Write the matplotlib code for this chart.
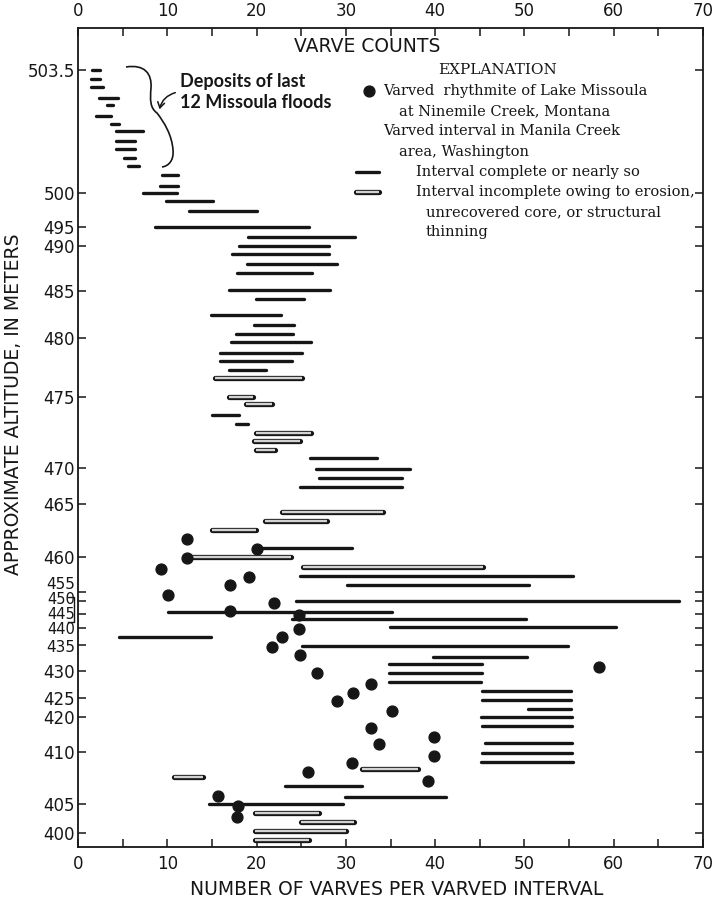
import numpy as np
import matplotlib
matplotlib.use("Agg")
import matplotlib.pyplot as plt
from matplotlib.path import Path
from matplotlib.patches import PathPatch, FancyArrowPatch
from matplotlib.transforms import ScaledTranslation

# altitude axis of the original is schematic: each labelled altitude and where it sits (0 = bottom of plot)
tick_alt = [397.6, 400, 405, 410, 420, 425, 430, 435, 440, 445, 450, 455, 460,
            465, 470, 475, 480, 485, 490, 495, 500, 503.5, 504.7]
tick_pos = [0, 14, 43, 95, 130, 149, 176, 202, 219, 233, 246, 255, 290,
            343, 379, 450, 509, 556, 601, 620, 654, 777, 819]
tick_labels = ['400', '405', '410', '420', '425', '430', '435', '440', '445', '450',
               '455', '460', '465', '470', '475', '480', '485', '490', '495', '500', '503.5']

# varved intervals, complete or nearly so (altitude, first and last varve count)
complete_alt = [503.50, 503.24, 503.01, 502.71, 502.50, 502.20, 501.96, 501.76, 501.49,
                501.26, 500.99, 500.76, 500.51, 500.21, 500.00, 498.82, 497.40, 494.92,
                492.37, 490.00, 489.08, 488.00, 487.04, 485.10, 484.15, 482.42, 481.36,
                480.47, 479.64, 478.75, 478.05, 477.26, 473.71, 473.10, 470.68, 469.82,
                468.57, 467.40, 460.88, 457.33, 456.04, 450.00, 445.88, 443.11, 440.25,
                437.44, 434.81, 432.75, 431.35, 429.57, 427.96, 426.30, 424.47, 422.18,
                420.08, 417.43, 412.48, 409.87, 409.01, 406.73, 405.70, 404.95]
complete_start = [1.6, 1.4, 1.4, 2.3, 3.3, 2.0, 3.7, 4.3, 4.3,
                  4.2, 5.1, 5.6, 9.4, 9.2, 7.3, 9.9, 12.4, 8.6,
                  19.0, 18.0, 17.2, 18.9, 17.8, 16.9, 19.9, 14.9, 19.7,
                  17.7, 17.1, 15.9, 15.9, 16.9, 15.0, 17.7, 26.0, 26.7,
                  27.0, 24.9, 20.2, 24.9, 30.1, 24.4, 10.1, 24.0, 34.9,
                  4.6, 25.1, 39.8, 34.8, 34.8, 34.8, 45.3, 45.2, 50.4,
                  45.1, 45.3, 45.6, 45.2, 45.1, 23.2, 29.9, 14.7]
complete_end = [2.5, 2.5, 2.8, 4.5, 3.9, 3.7, 4.6, 7.3, 6.4,
                6.4, 6.4, 6.8, 11.2, 11.2, 11.1, 15.1, 20.0, 25.9,
                31.0, 28.1, 28.1, 29.0, 26.2, 28.2, 25.3, 22.7, 24.2,
                24.1, 26.1, 25.1, 24.0, 21.1, 18.0, 19.0, 33.5, 37.2,
                36.3, 36.3, 30.7, 55.4, 50.5, 67.3, 35.2, 50.2, 60.2,
                14.9, 54.9, 50.3, 45.2, 45.2, 45.1, 55.2, 55.2, 55.2,
                55.3, 55.3, 55.3, 55.3, 55.4, 31.8, 41.2, 29.7]

# varved intervals, incomplete (erosion, unrecovered core, thinning)
incomplete_alt = [476.61, 475.03, 474.49, 472.49, 471.88, 471.29, 464.22, 463.40, 462.52,
                  459.96, 458.53, 408.34, 407.57, 403.50, 401.96, 400.41, 398.80]
incomplete_start = [15.3, 16.9, 18.8, 19.9, 19.7, 19.9, 22.8, 20.9, 15.0,
                    12.2, 25.2, 31.8, 10.8, 19.8, 25.0, 19.8, 19.8]
incomplete_end = [25.1, 19.6, 21.7, 26.1, 24.9, 22.1, 34.2, 27.9, 19.9,
                  23.9, 45.4, 38.1, 14.0, 27.0, 30.9, 30.0, 25.9]

# varved rhythmite of Lake Missoula at Ninemile Creek
dot_alt = [461.67, 459.81, 460.73, 458.33, 457.18, 455.95, 453.33, 449.35, 446.27, 444.64,
           439.71, 437.27, 434.67, 433.08, 430.72, 429.57, 427.54, 425.99, 424.29, 421.58,
           416.77, 414.37, 412.19, 409.62, 408.91, 408.05, 407.21, 405.77, 404.66, 402.82]
dot_count = [12.2, 12.2, 20.1, 9.3, 19.1, 17.0, 10.1, 21.9, 17.0, 24.7,
             24.8, 22.9, 21.7, 24.9, 58.3, 26.8, 32.8, 30.8, 29.0, 35.2,
             32.8, 39.9, 33.7, 39.9, 30.7, 25.8, 39.2, 15.7, 17.9, 17.8]

plt.rcParams['font.family'] = 'DejaVu Sans'
ink = '#161616'

W, H = 713, 907
fig = plt.figure(figsize=(W / 100, H / 100), dpi=100)
ax = fig.add_axes([78 / W, 1 - 847 / H, 625 / W, 819 / H])


def fx(px):
    return px / W


def fy(py):
    return 1 - py / H


ax.set_yscale('function', functions=(lambda a: np.interp(a, tick_alt, tick_pos),
                                      lambda p: np.interp(p, tick_pos, tick_alt)))
ax.set_xlim(0, 70)
ax.set_ylim(tick_alt[0], tick_alt[-1])

ax.hlines(complete_alt, complete_start, complete_end, colors=ink, linewidth=2.4,
          capstyle='round', zorder=3)
ax.hlines(incomplete_alt, incomplete_start, incomplete_end, colors=ink, linewidth=3.8,
          capstyle='round', zorder=2)
ax.hlines(incomplete_alt, incomplete_start, incomplete_end, colors='#d2d2d2', linewidth=1.7,
          capstyle='butt', zorder=2.5)
ax.plot(dot_count, dot_alt, 'o', color=ink, ms=7.8, zorder=4)

# axes, ticks
ax.set_yticks(tick_alt[1:-1])
ax.set_yticklabels(tick_labels)
ax.set_xticks(range(0, 71, 10))
ax.set_xticks(range(5, 70, 10), minor=True)
ax.tick_params(which='both', direction='in', length=6, width=1.1, color=ink,
               top=True, right=True, labeltop=True, labelsize=12, labelcolor=ink)
ax.tick_params(axis='x', pad=6)
ax.tick_params(axis='y', pad=2)
for s in ax.spines.values():
    s.set_linewidth(1.3)
    s.set_color(ink)

# the crowded labels around the 450-445 gap are packed tighter in the original
nudge = {'455': (11, 9), '450': (10.5, 3), '445': (10.5, 1), '440': (10.5, 0), '435': (11, -1)}
for lab in ax.get_yticklabels():
    if lab.get_text() in nudge:
        size, dy = nudge[lab.get_text()]
        lab.set_fontsize(size)
        lab.set_transform(lab.get_transform() +
                          ScaledTranslation(0, dy / 100, fig.dpi_scale_trans))

ax.set_ylabel('APPROXIMATE ALTITUDE, IN METERS', fontsize=13.5, color=ink)
ax.yaxis.set_label_coords(-0.088, 0.54)
ax.set_xlabel('NUMBER OF VARVES PER VARVED INTERVAL', fontsize=13.5, color=ink)
ax.xaxis.set_label_coords(0.51, -0.04)

# bracket by 450-445
bt = ax.get_yaxis_transform()
ax.plot([-0.016, -0.006, -0.006, -0.016], [452.4, 452.4, 442.2, 442.2], color=ink,
        lw=1, transform=bt, clip_on=False)

fig.text(fx(367), fy(47), 'VARVE COUNTS', ha='center', va='center', fontsize=13.5, color=ink)

# explanation
serif = dict(family='DejaVu Serif', fontsize=10.5, color=ink, va='center', ha='left')
fig.text(fx(498), fy(70), 'EXPLANATION', **dict(serif, ha='center', fontsize=11))
fig.text(fx(383), fy(91), 'Varved  rhythmite of Lake Missoula', **serif)
fig.text(fx(399), fy(111), 'at Ninemile Creek, Montana', **serif)
fig.text(fx(383), fy(131), 'Varved interval in Manila Creek', **serif)
fig.text(fx(399), fy(152), 'area, Washington', **serif)
fig.text(fx(416), fy(172), 'Interval complete or nearly so', **serif)
fig.text(fx(416), fy(192), 'Interval incomplete owing to erosion,', **serif)
fig.text(fx(426), fy(212), 'unrecovered core, or structural', **serif)
fig.text(fx(426), fy(232), 'thinning', **serif)
ax.plot([0.466], [0.923], 'o', color=ink, ms=7.8, transform=ax.transAxes, clip_on=False)
ax.plot([0.444, 0.482], [0.824, 0.824], color=ink, lw=2.4, solid_capstyle='round',
        transform=ax.transAxes)
ax.plot([0.444, 0.482], [0.800, 0.800], color=ink, lw=3.8, solid_capstyle='round',
        transform=ax.transAxes)
ax.plot([0.444, 0.482], [0.800, 0.800], color='#d2d2d2', lw=1.7, solid_capstyle='butt',
        transform=ax.transAxes)

# brace and note for the last floods
brace = [(126, 67), (145, 64), (152, 74), (151, 88),
         (150, 100), (150, 108), (157, 113),
         (164, 122), (172, 135), (173, 150),
         (174, 160), (169, 166), (162, 167)]
codes = [Path.MOVETO] + [Path.CURVE4] * 12
fig.add_artist(PathPatch(Path([(fx(a), fy(b)) for a, b in brace], codes), fill=False,
                         lw=1.2, color=ink, transform=fig.transFigure))
fig.add_artist(FancyArrowPatch((fx(178), fy(92)), (fx(159), fy(112)),
                               connectionstyle='arc3,rad=0.35',
                               arrowstyle='->,head_length=4,head_width=2.5',
                               lw=1.1, color=ink, transform=fig.transFigure))
fig.text(fx(180), fy(82), 'Deposits of last', family='Lato', weight='bold', fontsize=13,
         color=ink, va='center')
fig.text(fx(180), fy(102), '12 Missoula floods', family='Lato', weight='bold', fontsize=13,
         color=ink, va='center')

fig.savefig('out.png', dpi=100, facecolor='white')
